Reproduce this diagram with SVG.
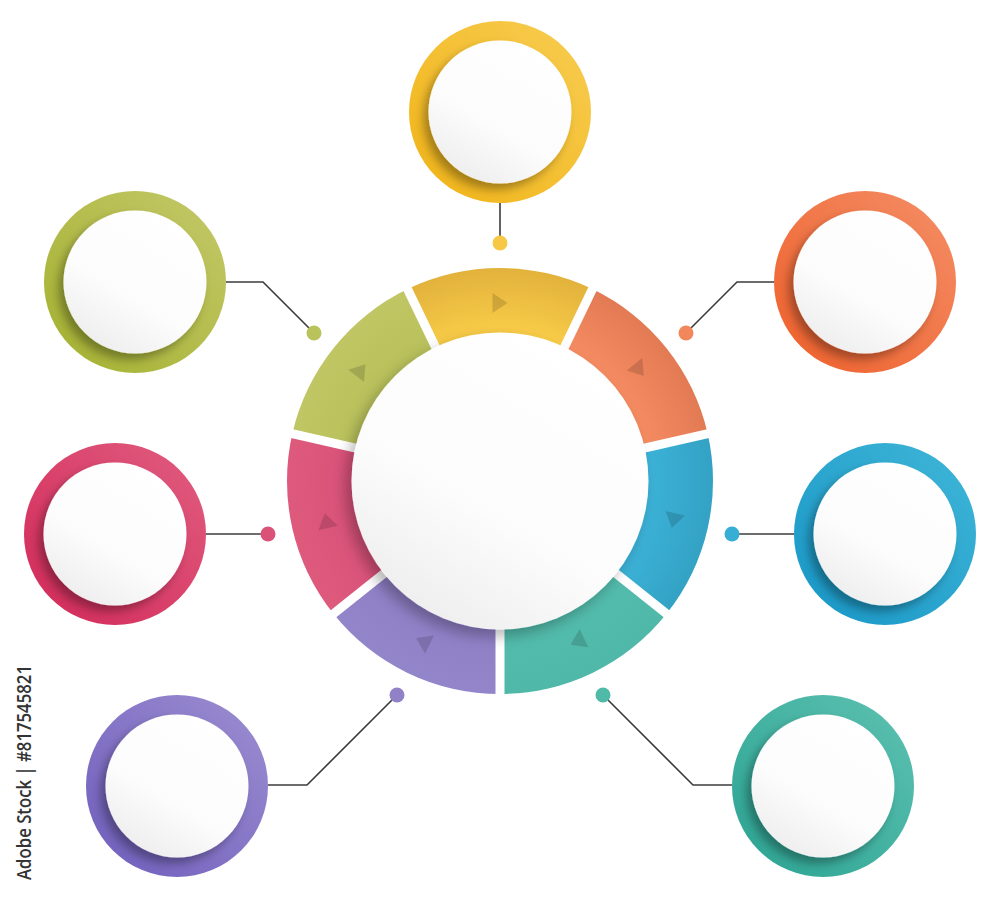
<svg xmlns="http://www.w3.org/2000/svg" width="1000" height="898" viewBox="0 0 1000 898">
<style>
.wh{fill:url(#gWhite);filter:url(#sh)}
.whm{fill:url(#gWhite);filter:url(#shm)}
.cn{fill:none;stroke:#3c3c3c;stroke-width:1.6}
.gap{stroke:#ffffff;stroke-width:9}
.tri{fill:#000;fill-opacity:0.14}
.wm{font-family:"Open Sans","Noto Sans","DejaVu Sans",sans-serif;font-size:20px;font-weight:600;fill:#333333}
</style>
<defs>
<filter id="sh" x="-30%" y="-30%" width="160%" height="160%">
<feDropShadow dx="-5" dy="6" stdDeviation="5" flood-color="#000" flood-opacity="0.33"/>
</filter>
<filter id="shm" x="-30%" y="-30%" width="160%" height="160%">
<feDropShadow dx="-6" dy="7" stdDeviation="7" flood-color="#000" flood-opacity="0.28"/>
</filter>
<linearGradient id="gWhite" x1="0.8" y1="0" x2="0.2" y2="1">
<stop offset="0" stop-color="#ffffff"/>
<stop offset="0.6" stop-color="#fcfcfc"/>
<stop offset="1" stop-color="#ececec"/>
</linearGradient>
<linearGradient id="rY" x1="0" y1="1" x2="1" y2="0"><stop offset="0" stop-color="#F0B316"/><stop offset="1" stop-color="#F8CD52"/></linearGradient>
<linearGradient id="rO" x1="0" y1="1" x2="1" y2="0"><stop offset="0" stop-color="#EE5F2A"/><stop offset="1" stop-color="#F48E66"/></linearGradient>
<linearGradient id="rB" x1="0" y1="1" x2="1" y2="0"><stop offset="0" stop-color="#1796C6"/><stop offset="1" stop-color="#40B6D8"/></linearGradient>
<linearGradient id="rT" x1="0" y1="1" x2="1" y2="0"><stop offset="0" stop-color="#2AA392"/><stop offset="1" stop-color="#5EC1B1"/></linearGradient>
<linearGradient id="rP" x1="0" y1="1" x2="1" y2="0"><stop offset="0" stop-color="#6F5DBC"/><stop offset="1" stop-color="#9C8ED1"/></linearGradient>
<linearGradient id="rR" x1="0" y1="1" x2="1" y2="0"><stop offset="0" stop-color="#D22858"/><stop offset="1" stop-color="#E15D80"/></linearGradient>
<linearGradient id="rG" x1="0" y1="1" x2="1" y2="0"><stop offset="0" stop-color="#A3B12F"/><stop offset="1" stop-color="#C4C869"/></linearGradient>
<radialGradient id="sY" gradientUnits="userSpaceOnUse" cx="500" cy="481" r="213"><stop offset="0.72" stop-color="#F7CA47"/><stop offset="1" stop-color="#E2B23C"/></radialGradient>
<radialGradient id="sO" gradientUnits="userSpaceOnUse" cx="500" cy="481" r="213"><stop offset="0.72" stop-color="#F48A60"/><stop offset="1" stop-color="#E27A54"/></radialGradient>
<radialGradient id="sB" gradientUnits="userSpaceOnUse" cx="500" cy="481" r="213"><stop offset="0.72" stop-color="#3BB1D6"/><stop offset="1" stop-color="#33A2C4"/></radialGradient>
<radialGradient id="sT" gradientUnits="userSpaceOnUse" cx="500" cy="481" r="213"><stop offset="0.72" stop-color="#53BCAC"/><stop offset="1" stop-color="#4FB8A8"/></radialGradient>
<radialGradient id="sP" gradientUnits="userSpaceOnUse" cx="500" cy="481" r="213"><stop offset="0.72" stop-color="#8F80C6"/><stop offset="1" stop-color="#9385CA"/></radialGradient>
<radialGradient id="sR" gradientUnits="userSpaceOnUse" cx="500" cy="481" r="213"><stop offset="0.72" stop-color="#D9527A"/><stop offset="1" stop-color="#DE5A7C"/></radialGradient>
<radialGradient id="sG" gradientUnits="userSpaceOnUse" cx="500" cy="481" r="213"><stop offset="0.72" stop-color="#B9C15C"/><stop offset="1" stop-color="#BFC663"/></radialGradient>
</defs>
<rect width="1000" height="898" fill="#ffffff"/>

<g id="connectors">
<polyline class="cn" points="500,203 500,243"/>
<polyline class="cn" points="774,282 737,282 686,333"/>
<polyline class="cn" points="794,534 732,534"/>
<polyline class="cn" points="732,785 693,785 603,695"/>
<polyline class="cn" points="268,785 307,785 397,695"/>
<polyline class="cn" points="206,534 268,534"/>
<polyline class="cn" points="226,282 263,282 314,333"/>
<circle cx="500" cy="243" r="7.5" fill="#F6C845"/>
<circle cx="686" cy="333" r="7.5" fill="#F3875C"/>
<circle cx="732" cy="534" r="7.5" fill="#37AED4"/>
<circle cx="603" cy="695" r="7.5" fill="#50BAA9"/>
<circle cx="397" cy="695" r="7.5" fill="#9182C8"/>
<circle cx="268" cy="534" r="7.5" fill="#DB5278"/>
<circle cx="314" cy="333" r="7.5" fill="#BAC25C"/>
</g>

<g id="hub">
<path fill="url(#sY)" d="M407.58,289.09 A213,213 0 0 1 592.42,289.09 L558.57,359.37 A135,135 0 0 0 441.43,359.37 Z"/>
<path fill="url(#sO)" d="M592.42,289.09 A213,213 0 0 1 707.66,433.60 L631.62,450.96 A135,135 0 0 0 558.57,359.37 Z"/>
<path fill="url(#sB)" d="M707.66,433.60 A213,213 0 0 1 666.53,613.80 L605.55,565.17 A135,135 0 0 0 631.62,450.96 Z"/>
<path fill="url(#sT)" d="M666.53,613.80 A213,213 0 0 1 500,694 L500,616 A135,135 0 0 0 605.55,565.17 Z"/>
<path fill="url(#sP)" d="M500,694 A213,213 0 0 1 333.47,613.80 L394.45,565.17 A135,135 0 0 0 500,616 Z"/>
<path fill="url(#sR)" d="M333.47,613.80 A213,213 0 0 1 292.34,433.60 L368.38,450.96 A135,135 0 0 0 394.45,565.17 Z"/>
<path fill="url(#sG)" d="M292.34,433.60 A213,213 0 0 1 407.58,289.09 L441.43,359.37 A135,135 0 0 0 368.38,450.96 Z"/>
<g>
<line class="gap" x1="500" y1="351" x2="500" y2="262" transform="rotate(25.714 500 481)"/>
<line class="gap" x1="500" y1="351" x2="500" y2="262" transform="rotate(77.143 500 481)"/>
<line class="gap" x1="500" y1="351" x2="500" y2="262" transform="rotate(128.571 500 481)"/>
<line class="gap" x1="500" y1="351" x2="500" y2="262" transform="rotate(180 500 481)"/>
<line class="gap" x1="500" y1="351" x2="500" y2="262" transform="rotate(231.429 500 481)"/>
<line class="gap" x1="500" y1="351" x2="500" y2="262" transform="rotate(282.857 500 481)"/>
<line class="gap" x1="500" y1="351" x2="500" y2="262" transform="rotate(334.286 500 481)"/>
</g>
<g>
<polygon class="tri" points="492.5,293 507.5,303 492.5,313"/>
<polygon class="tri" points="492.5,293 507.5,303 492.5,313" transform="rotate(51.429 500 481)"/>
<polygon class="tri" points="492.5,293 507.5,303 492.5,313" transform="rotate(102.857 500 481)"/>
<polygon class="tri" points="492.5,293 507.5,303 492.5,313" transform="rotate(154.286 500 481)"/>
<polygon class="tri" points="492.5,293 507.5,303 492.5,313" transform="rotate(205.714 500 481)"/>
<polygon class="tri" points="492.5,293 507.5,303 492.5,313" transform="rotate(257.143 500 481)"/>
<polygon class="tri" points="492.5,293 507.5,303 492.5,313" transform="rotate(308.571 500 481)"/>
</g>
<circle class="whm" cx="500" cy="481" r="148.5"/>
</g>

<g id="node-yellow"><circle cx="500" cy="112" r="91" fill="url(#rY)"/><circle class="wh" cx="500" cy="112" r="71.5"/></g>
<g id="node-orange"><circle cx="865" cy="282" r="91" fill="url(#rO)"/><circle class="wh" cx="865" cy="282" r="71.5"/></g>
<g id="node-blue"><circle cx="885" cy="534" r="91" fill="url(#rB)"/><circle class="wh" cx="885" cy="534" r="71.5"/></g>
<g id="node-teal"><circle cx="823" cy="786" r="91" fill="url(#rT)"/><circle class="wh" cx="823" cy="786" r="71.5"/></g>
<g id="node-purple"><circle cx="177" cy="786" r="91" fill="url(#rP)"/><circle class="wh" cx="177" cy="786" r="71.5"/></g>
<g id="node-red"><circle cx="115" cy="534" r="91" fill="url(#rR)"/><circle class="wh" cx="115" cy="534" r="71.5"/></g>
<g id="node-green"><circle cx="135" cy="282" r="91" fill="url(#rG)"/><circle class="wh" cx="135" cy="282" r="71.5"/></g>

<text class="wm" transform="translate(31,880) rotate(-90)" x="0" y="0" textLength="215" lengthAdjust="spacingAndGlyphs">Adobe Stock | #817545821</text>
</svg>
